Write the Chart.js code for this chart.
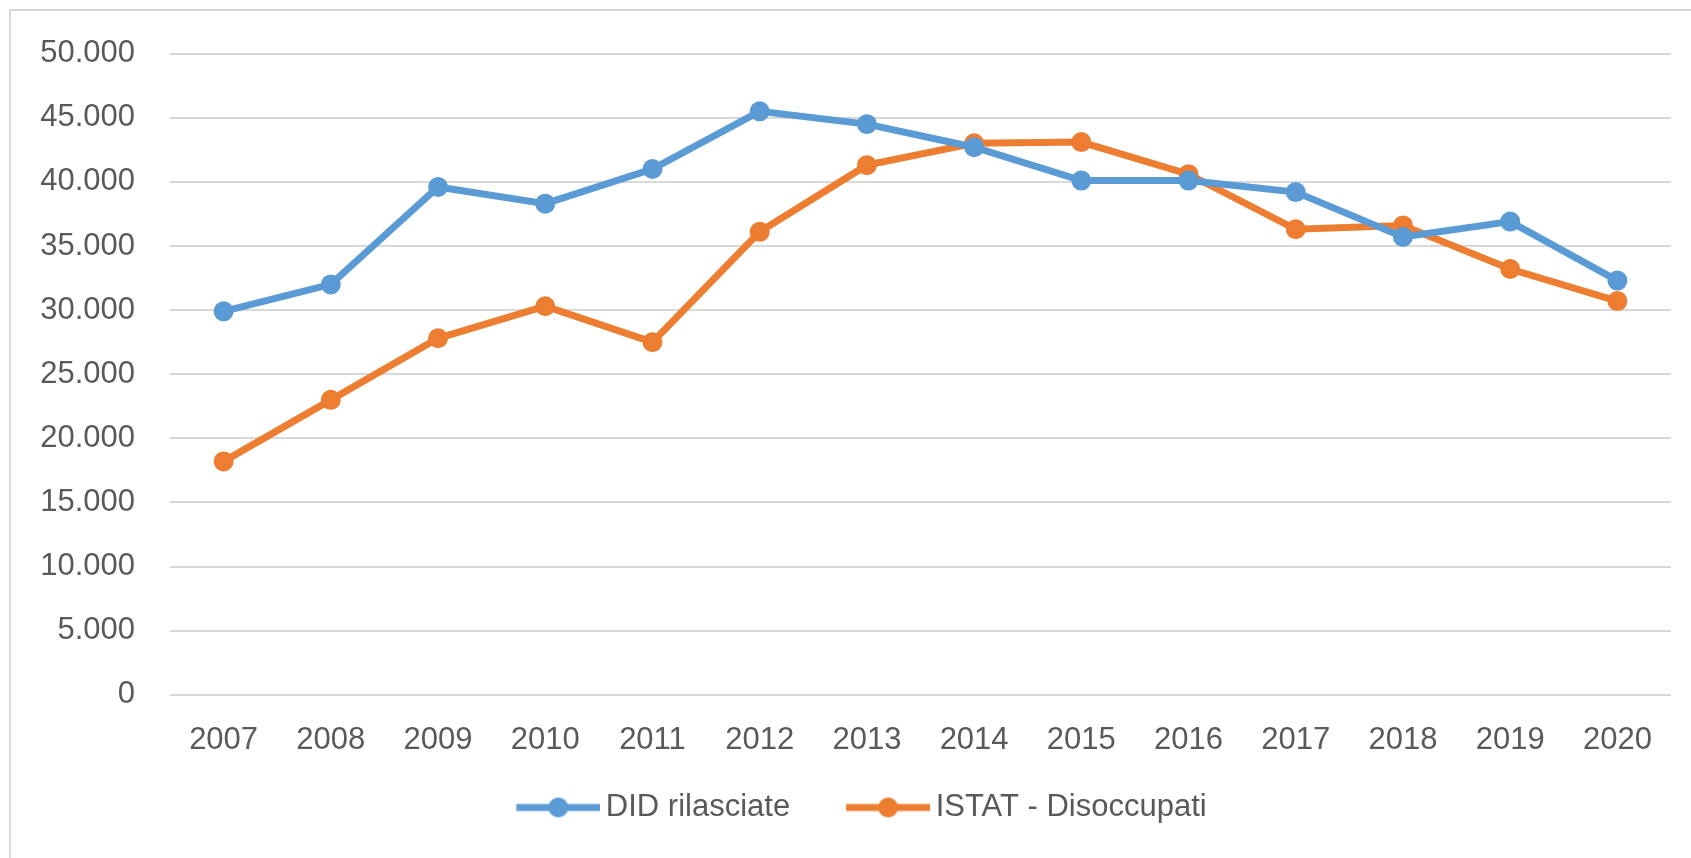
<!DOCTYPE html>
<html>
<head>
<meta charset="utf-8">
<script src="https://cdn.jsdelivr.net/npm/chart.js@4"></script>
<style>
  html, body { margin: 0; padding: 0; background: #fff; }
  #wrap { width: 1691px; height: 858px; position: relative; }
</style>
</head>
<body>
<div id="wrap"><canvas id="chart" width="1691" height="858"></canvas></div>
<script>
// Data
const years = ['2007', '2008', '2009', '2010', '2011', '2012', '2013', '2014', '2015', '2016', '2017', '2018', '2019', '2020'];
const didRilasciate = [29900, 32000, 39600, 38300, 41000, 45500, 44500, 42700, 40100, 40100, 39200, 35700, 36900, 32300];
const istatDisoccupati = [18200, 23000, 27800, 30300, 27500, 36100, 41300, 43000, 43100, 40600, 36300, 36600, 33200, 30700];
const seriesNames = ['DID rilasciate', 'ISTAT - Disoccupati'];
const yTicks = [0, 5000, 10000, 15000, 20000, 25000, 30000, 35000, 40000, 45000, 50000];

const COLORS = {
    blue: '#5B9BD5',
    orange: '#ED7D31',
    grid: '#D9D9D9',
    text: '#595959'
};
const FONT = { family: '"Liberation Sans", Arial, sans-serif', size: 31 };

// legend swatch geometry: line of 84px, box wide enough to leave a gap before each item
const SWATCH_BOX = 116;
const SWATCH_IMG = 136;

// thousands with a dot, Italian style
function formatIt(v) {
    return String(v).replace(/\B(?=(\d{3})+(?!\d))/g, '.');
}

// legend marker: line with a dot in the middle, pushed to the right of the box
function legendSwatch(color) {
    const c = document.createElement('canvas');
    c.width = SWATCH_IMG;
    c.height = 24;
    const ctx = c.getContext('2d');
    const x0 = SWATCH_IMG - 84;
    ctx.strokeStyle = color;
    ctx.lineWidth = 7;
    ctx.beginPath();
    ctx.moveTo(x0, 12);
    ctx.lineTo(x0 + 84, 12);
    ctx.stroke();
    ctx.fillStyle = color;
    ctx.beginPath();
    ctx.arc(x0 + 42, 12, 10, 0, Math.PI * 2);
    ctx.fill();
    return c;
}

// thin frame around the chart like the spreadsheet export
const framePlugin = {
    id: 'frame',
    afterDraw(chart) {
        const ctx = chart.ctx;
        ctx.save();
        ctx.strokeStyle = COLORS.grid;
        ctx.lineWidth = 2;
        ctx.beginPath();
        ctx.moveTo(10, chart.height + 5);
        ctx.lineTo(10, 10);
        ctx.lineTo(chart.width + 5, 10);
        ctx.stroke();
        ctx.restore();
    }
};

function makeDataset(label, data, color) {
    return {
        label: label,
        data: data,
        borderColor: color,
        backgroundColor: color,
        borderWidth: 7,
        pointRadius: 9,
        pointBorderWidth: 2,
        pointBackgroundColor: color,
        pointBorderColor: color,
        tension: 0,
        fill: false
    };
}

new Chart(document.getElementById('chart').getContext('2d'), {
    type: 'line',
    data: {
        labels: years,
        datasets: [
            makeDataset(seriesNames[0], didRilasciate, COLORS.blue),
            makeDataset(seriesNames[1], istatDisoccupati, COLORS.orange)
        ]
    },
    plugins: [framePlugin],
    options: {
        responsive: false,
        animation: false,
        layout: {
            padding: { left: 10, right: 20, top: 32, bottom: 25 }
        },
        plugins: {
            tooltip: { enabled: false },
            legend: {
                position: 'bottom',
                labels: {
                    color: COLORS.text,
                    font: FONT,
                    usePointStyle: true,
                    pointStyleWidth: SWATCH_BOX,
                    padding: 14,
                    generateLabels(chart) {
                        return chart.data.datasets.map((ds, i) => ({
                            text: ds.label,
                            fillStyle: ds.borderColor,
                            strokeStyle: ds.borderColor,
                            lineWidth: 0,
                            pointStyle: legendSwatch(ds.borderColor),
                            fontColor: COLORS.text,
                            datasetIndex: i,
                            hidden: false
                        }));
                    }
                }
            }
        },
        scales: {
            x: {
                offset: true,
                grid: { display: false },
                border: { display: false },
                ticks: {
                    color: COLORS.text,
                    font: FONT,
                    padding: 19,
                    maxRotation: 0
                }
            },
            y: {
                min: 0,
                max: 50000,
                afterFit(scale) { scale.width = 160; },
                afterBuildTicks(scale) {
                    scale.ticks = yTicks.map(v => ({ value: v }));
                },
                grid: {
                    color: COLORS.grid,
                    lineWidth: 2,
                    drawTicks: false
                },
                border: { display: false },
                ticks: {
                    color: COLORS.text,
                    font: FONT,
                    padding: 35,
                    callback: v => formatIt(v)
                }
            }
        }
    }
});
</script>
</body>
</html>
